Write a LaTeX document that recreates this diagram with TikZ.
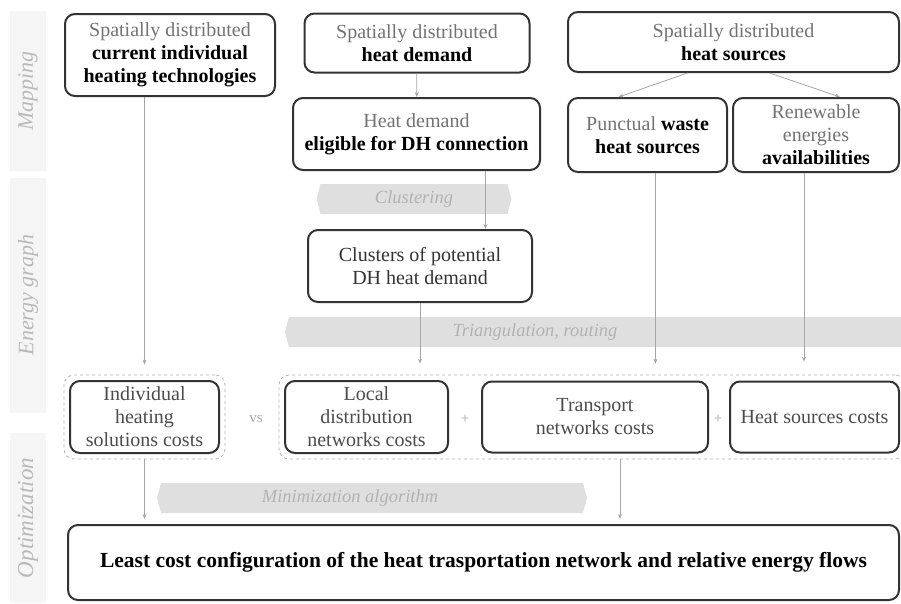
\documentclass[tikz,border=0pt]{standalone}
\usepackage{fontspec}
\setmainfont{Liberation Serif}
\usetikzlibrary{shapes.symbols, calc, positioning, fit, arrows.meta}

\newcommand{\faded}[1]{\textcolor{black!55}{#1}}

\tikzset{
  mapbox/.style={draw=black!80, line width=2pt, rounded corners=10pt, fill=white,
                 align=center, font=\fontsize{20}{23}\selectfont, inner sep=2pt},
  sideband/.style={rotate=90, fill=gray!8, minimum height=36pt, inner sep=0pt,
                   font=\itshape\fontsize{22}{24}\selectfont, text=gray!55},
  stagearrow/.style={signal, signal to=east and west, signal pointer angle=150,
                     fill=gray!25, draw=none, minimum height=30pt, inner sep=0pt,
                     font=\itshape\fontsize{18.5}{20}\selectfont, text=gray!60},
  stagetext/.style={font=\itshape\fontsize{18.5}{20}\selectfont, text=gray!60},
  link/.style={draw=gray!70, line width=0.8pt, -{Stealth[length=5pt, width=4pt]}},
  dashgroup/.style={draw=gray!60, dashed, line width=0.8pt, rounded corners=10pt, inner sep=5pt},
  opsign/.style={font=\fontsize{15}{15}\selectfont, text=gray!70}
}

\begin{document}
\begin{tikzpicture}[x=1pt, y=-1pt]
  \useasboundingbox (0,0) rectangle (901,603);

  % phases on the left
  \node[sideband, minimum width=160pt] (mapping) at (28,91) {Mapping};
  \node[sideband, minimum width=235pt] (graph) at (28,295) {Energy graph};
  \node[sideband, minimum width=170pt, font=\itshape\fontsize{23}{24}\selectfont] (optim) at (28,518) {Optimization};

  % grey process banners
  \node[stagearrow, minimum width=195pt] (clustering) at (414,199) {Clustering};
  \node[stagearrow, minimum width=630pt] (triang) at (600,332) {};
  \node[stagetext] (triangtext) at (535,332) {Triangulation, routing};
  \node[stagearrow, minimum width=430pt] (minimize) at (372,498) {};
  \node[stagetext] (minimizetext) at (350,498) {Minimization algorithm};

  % mapping
  \node[mapbox, minimum width=210pt, minimum height=82pt] (tech) at (170,55)
       {\faded{Spatially distributed}\\ \textbf{current individual}\\ \textbf{heating technologies}};
  \node[mapbox, minimum width=225pt, minimum height=59pt] (demand) at (417,43)
       {\faded{Spatially distributed}\\ \textbf{heat demand}};
  \node[mapbox, minimum width=331pt, minimum height=60pt] (sources) at (733.5,42)
       {\faded{Spatially distributed}\\ \textbf{heat sources}};
  \node[mapbox, minimum width=247pt, minimum height=72pt] (eligible) at (416.5,134)
       {\faded{Heat demand}\\ \textbf{eligible for DH connection}};
  \node[mapbox, minimum width=159pt, minimum height=74pt] (waste) at (647.5,135)
       {\faded{Punctual} \textbf{waste}\\ \textbf{heat sources}};
  \node[mapbox, minimum width=166pt, minimum height=74pt] (renew) at (816,135)
       {\faded{Renewable}\\ \faded{energies}\\ \textbf{availabilities}};

  % energy graph
  \node[mapbox, minimum width=224pt, minimum height=72pt, text=black!80] (clusters) at (420,266)
       {Clusters of potential\\ DH heat demand};

  % costs
  \node[mapbox, minimum width=149pt, minimum height=72pt, text=black!70] (indiv) at (144.5,417)
       {Individual\\ heating\\ solutions costs};
  \node[mapbox, minimum width=163pt, minimum height=72pt, text=black!70] (local) at (366.5,417)
       {Local\\ distribution\\ networks costs};
  \node[mapbox, minimum width=226pt, minimum height=71pt, text=black!70] (transport) at (595,417)
       {Transport\\ networks costs};
  \node[mapbox, minimum width=169pt, minimum height=71pt, text=black!70] (srccost) at (814.5,417)
       {Heat sources costs};
  \node[dashgroup, fit=(indiv)] (grpindiv) {};
  \node[dashgroup, fit=(local)(transport)(srccost)] (grpdh) {};
  \node[opsign] (vs) at (256,419) {vs};
  \node[opsign] (plusa) at (465,419) {+};
  \node[opsign] (plusb) at (718,419) {+};

  % result
  \node[mapbox, minimum width=831pt, minimum height=75pt, font=\bfseries\fontsize{21.5}{23}\selectfont] (least) at (483.5,562.5)
       {Least cost configuration of the heat trasportation network and relative energy flows};

  % connectors
  \draw[link, shorten >=10pt] (tech.south -| indiv) -- (grpindiv.north -| indiv);
  \draw[link] (demand) -- (eligible);
  \draw[link] ($(sources.south)+(-46,0)$) -- ($(waste.north)+(-29,0)$);
  \draw[link] ($(sources.south)+(36,0)$) -- ($(renew.north)+(24,0)$);
  \coordinate (dhdrop) at ($(eligible.south)+(69,0)$);
  \draw[link] (dhdrop) -- (dhdrop |- clusters.north);
  \draw[link, shorten >=11pt] (clusters) -- (clusters |- grpdh.north);
  \coordinate (wastedrop) at ($(waste.south)+(8,0)$);
  \draw[link, shorten >=11pt] (wastedrop) -- (wastedrop |- grpdh.north);
  \coordinate (renewdrop) at ($(renew.south)+(-12,0)$);
  \draw[link, shorten >=13pt] (renewdrop) -- (renewdrop |- grpdh.north);
  \draw[link, shorten >=5pt] (grpindiv) -- (grpindiv |- least.north);
  \coordinate (optdrop) at ($(grpdh.south)+(28,0)$);
  \draw[link, shorten >=5pt] (optdrop) -- (optdrop |- least.north);
\end{tikzpicture}
\end{document}
